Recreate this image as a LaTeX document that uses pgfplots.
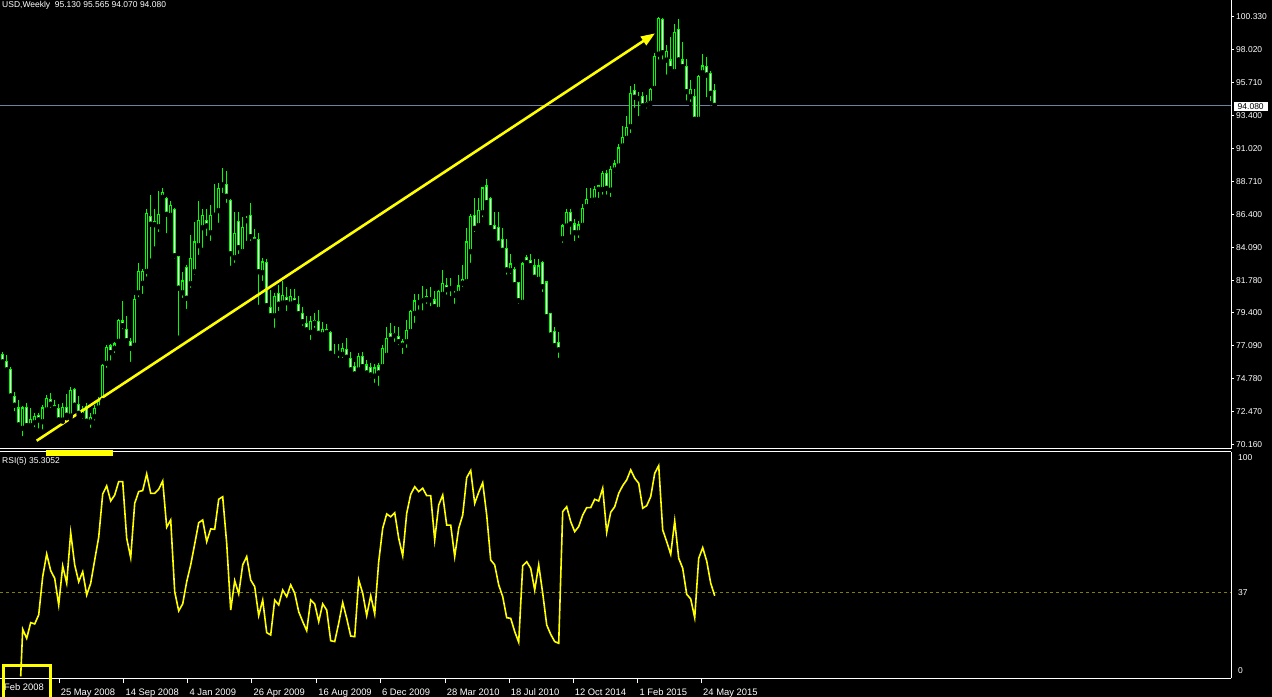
\documentclass[border=0pt]{standalone}
\usepackage{fontspec}
\setmainfont{Liberation Sans}
\usepackage{pgfplots}
\usepackage{pgfplotstable}
\pgfplotsset{compat=1.18}
\usetikzlibrary{arrows.meta}
\definecolor{mtgreen}{RGB}{0,255,0}
\definecolor{mtyellow}{RGB}{255,255,0}
\definecolor{pricegray}{RGB}{112,128,160}
\definecolor{lvl}{RGB}{128,128,0}
\newcommand{\mtfont}{\fontsize{8.5bp}{10bp}\selectfont}
\newcommand{\mtdfont}{\fontsize{9.4bp}{11bp}\selectfont}

\pgfplotstableread{
i O H L C
0 76.55 76.71 75.78 75.99
1 76.01 76.46 75.19 75.43
2 75.43 75.62 73.45 73.59
3 73.59 73.87 72.37 72.94
4 72.75 73.31 71.43 71.55
5 71.32 72.89 70.61 72.75
6 72.80 73.08 71.24 71.50
7 71.50 72.75 71.24 71.97
8 71.71 72.37 71.24 72.18
9 72.25 72.41 71.15 71.90
10 71.78 72.94 71.08 72.75
11 72.61 73.64 72.37 73.43
12 73.36 73.78 72.61 73.01
13 72.94 73.31 72.61 72.70
14 72.72 73.03 71.78 71.90
15 71.90 73.08 71.78 72.80
16 72.80 73.73 72.02 72.23
17 72.18 74.21 71.95 73.99
18 74.02 74.14 72.80 72.94
19 72.98 73.59 72.25 72.37
20 72.23 72.89 71.85 72.61
21 72.82 73.08 71.71 71.81
22 71.76 72.37 71.20 72.09
23 72.13 72.94 71.71 72.72
24 72.75 73.50 72.65 73.22
25 73.26 75.85 73.15 75.76
26 75.90 77.19 75.43 77.03
27 77.12 77.26 75.94 76.65
28 76.93 77.40 76.48 77.26
29 77.45 79.00 77.19 78.93
30 78.88 80.29 78.15 78.55
31 78.29 79.25 77.35 77.49
32 77.45 77.66 75.85 76.95
33 77.17 80.69 77.12 80.41
34 80.87 82.95 80.41 82.38
35 81.54 82.57 80.64 82.38
36 82.38 86.75 81.86 86.47
37 86.23 87.76 83.13 85.70
38 85.67 86.75 83.98 85.91
39 85.53 88.02 85.01 86.37
40 87.60 88.23 87.46 87.95
41 87.50 87.60 84.92 86.40
42 86.33 87.36 86.07 87.04
43 86.75 86.85 83.13 83.48
44 83.41 83.46 77.70 81.19
45 80.87 82.33 80.36 81.70
46 82.67 82.83 79.58 80.48
47 81.51 84.94 81.07 83.30
48 82.35 85.86 81.98 84.45
49 84.19 87.34 83.39 85.98
50 85.46 86.78 83.89 86.35
51 85.98 86.78 84.73 85.58
52 85.10 87.06 84.38 86.35
53 86.42 88.54 86.33 86.33
54 86.66 88.61 85.65 88.23
55 88.59 89.67 87.76 88.47
56 88.52 89.45 87.06 87.67
57 87.39 87.48 82.62 83.62
58 83.34 86.56 82.83 85.08
59 85.91 86.56 83.46 84.05
60 83.77 86.21 83.67 85.49
61 85.95 86.28 84.38 86.05
62 86.33 87.20 84.38 84.82
63 84.75 85.37 84.38 84.50
64 84.64 85.08 79.87 82.35
65 82.29 83.32 81.56 83.04
66 83.02 83.25 79.66 79.96
67 79.82 81.07 79.16 79.25
68 79.25 80.85 78.25 80.62
69 80.80 81.42 79.44 80.06
70 80.15 81.70 79.87 80.69
71 80.55 81.28 79.44 80.17
72 80.08 81.14 79.80 80.64
73 80.48 81.14 79.94 80.17
74 80.06 80.64 79.09 79.39
75 79.42 79.87 78.39 78.83
76 78.72 79.23 78.03 78.25
77 78.08 79.23 77.40 78.86
78 78.88 79.44 78.25 78.72
79 78.83 79.66 77.75 78.01
80 77.91 78.81 77.61 78.29
81 78.29 78.67 77.82 78.05
82 78.08 78.17 76.48 76.60
83 76.48 77.26 76.27 76.36
84 76.74 77.26 76.13 76.60
85 76.53 77.33 76.13 76.95
86 76.88 77.68 76.13 76.32
87 76.25 76.71 75.21 75.43
88 75.66 75.99 74.93 75.14
89 75.43 76.62 75.21 76.36
90 76.41 76.69 75.43 75.66
91 75.78 76.13 74.93 75.21
92 75.59 75.92 74.72 75.07
93 75.00 75.85 74.37 75.57
94 75.71 75.94 74.16 75.21
95 75.66 77.19 75.43 76.91
96 76.46 78.44 76.18 77.66
97 78.01 78.72 77.31 77.59
98 78.01 78.53 77.26 77.84
99 77.80 78.44 77.03 77.42
100 77.40 77.59 76.41 77.17
101 77.42 78.95 76.84 78.20
102 78.13 79.66 78.01 79.58
103 79.42 80.78 78.60 80.29
104 80.27 80.78 79.53 80.17
105 80.31 81.35 79.47 80.50
106 80.62 81.14 79.94 80.38
107 80.36 81.25 79.77 80.48
108 80.36 81.02 79.61 79.89
109 79.70 81.07 79.37 80.99
110 80.76 82.48 80.41 81.54
111 81.40 81.93 80.59 81.09
112 81.21 81.89 80.48 81.16
113 80.76 80.99 79.94 80.69
114 80.83 82.12 80.59 81.35
115 81.54 82.83 81.14 81.82
116 81.65 85.41 81.58 84.45
117 83.77 86.40 82.83 86.28
118 86.33 87.53 85.01 85.41
119 85.60 87.53 85.41 86.70
120 86.51 88.35 86.05 88.26
121 88.40 88.89 87.18 87.22
122 87.55 87.64 85.39 85.46
123 85.63 86.59 84.99 85.18
124 85.49 86.56 84.31 84.36
125 84.66 85.41 83.53 83.86
126 84.00 84.64 82.00 82.48
127 82.43 83.60 82.05 82.90
128 82.48 82.67 81.35 81.44
129 81.61 81.65 79.94 80.31
130 80.20 83.06 80.13 82.90
131 83.34 83.53 82.90 82.99
132 83.13 83.60 82.52 82.78
133 82.76 83.23 81.89 81.96
134 81.82 83.23 81.77 82.76
135 83.02 83.11 80.78 81.30
136 81.63 81.70 79.14 79.18
137 79.42 79.47 77.84 77.89
138 78.15 78.48 76.91 77.14
139 77.38 78.08 76.13 76.84
140 84.68 85.72 84.24 85.58
141 85.58 86.75 85.30 86.56
142 86.56 86.75 84.82 85.72
143 85.72 86.05 84.36 85.10
144 85.10 85.95 84.59 85.65
145 85.63 87.11 85.41 86.83
146 86.94 88.26 86.75 87.46
147 87.36 88.26 87.06 87.46
148 87.41 88.40 87.06 88.16
149 88.40 88.47 87.41 88.16
150 88.16 89.43 87.64 89.29
151 89.29 89.53 87.64 88.23
152 88.11 89.81 87.48 89.53
153 89.53 90.23 89.17 89.95
154 89.81 91.34 89.76 91.08
155 91.22 92.63 91.05 91.83
156 91.76 93.33 91.52 92.54
157 92.58 95.45 91.99 94.93
158 95.12 95.59 93.76 94.65
159 94.62 95.05 93.17 94.55
160 94.69 95.05 93.87 94.04
161 94.11 94.81 93.71 94.30
162 94.23 95.31 93.95 95.17
163 95.28 97.75 94.97 97.56
164 97.70 100.33 97.16 100.24
165 100.15 100.22 97.16 97.79
166 97.28 98.34 96.10 97.87
167 97.28 98.88 96.34 96.67
168 96.46 99.82 96.34 99.23
169 99.40 100.17 97.16 97.28
170 97.28 98.57 96.70 96.81
171 96.81 97.33 94.27 95.05
172 94.69 95.87 94.18 95.17
173 94.69 95.21 93.00 93.10
174 93.10 96.20 93.05 96.15
175 96.38 97.68 96.06 96.86
176 96.81 97.51 94.51 96.22
177 96.34 96.50 94.23 94.93
178 95.13 95.565 94.07 94.08
}\prices

\pgfplotstableread{
i r
4.5 -2.5
5 19.6
6 15.3
7 22.7
8 22.1
9 26.3
10 44.3
11 54.9
12 47.1
13 43.5
14 31.0
15 49.3
16 41.2
17 64.9
18 49.8
19 41.9
20 46.6
21 35.7
22 41.2
23 52.1
24 62.8
25 83.1
26 86.9
27 79.8
28 82.6
29 88.9
30 88.9
31 62.3
32 53.2
33 78.7
34 84.2
35 84.7
36 92.5
37 83.4
38 83.4
39 85.3
40 89.2
41 67.5
42 70.9
43 37.2
44 28.2
45 31.5
46 41.9
47 49.8
48 59.6
49 69.6
50 70.9
51 60.7
52 66.7
53 66.5
54 80.6
55 81.8
56 59.9
57 28.6
58 42.4
59 36.2
60 49.8
61 53.7
62 42.7
63 39.6
64 26.0
65 33.3
66 18.0
67 16.9
68 33.3
69 31.0
70 38.0
71 34.9
72 40.4
73 36.5
74 27.8
75 23.2
76 18.9
77 33.3
78 31.5
79 23.2
80 31.5
81 28.6
82 14.2
83 13.8
84 22.4
85 32.1
86 24.7
87 16.4
88 16.1
89 42.7
90 36.5
91 26.0
92 35.4
93 26.8
94 51.3
95 67.0
96 73.7
97 72.4
98 74.3
99 62.3
100 54.1
101 74.0
102 82.9
103 86.5
104 84.2
105 85.8
106 82.3
107 82.3
108 61.5
109 77.9
110 82.6
111 68.5
112 68.5
113 53.7
114 67.0
115 73.2
116 90.8
117 94.1
118 78.7
119 83.9
120 88.4
121 73.2
122 52.1
123 49.8
124 40.4
125 34.9
126 25.0
127 24.7
128 18.5
129 13.5
130 49.4
131 51.3
132 48.2
133 38.0
134 49.8
135 36.5
136 21.6
137 17.2
138 13.8
139 13.0
140 74.8
141 77.1
142 70.1
143 65.4
144 67.8
145 73.2
146 76.7
147 76.7
148 80.6
149 79.8
150 85.8
151 65.1
152 74.5
153 77.1
154 83.4
155 87.0
156 89.7
157 94.4
158 90.5
159 88.1
160 76.4
161 77.6
162 81.8
163 92.8
164 96.4
165 66.2
166 60.7
167 54.8
168 70.4
169 52.9
170 48.2
171 36.0
172 33.8
173 25.0
174 52.9
175 57.9
176 51.6
177 41.2
178 35.3052
}\rsi

\pgfplotsset{
  mtaxis/.style={
    scale only axis, width=1231bp, xmin=-0.675, xmax=307.075,
    anchor=south west,
    axis line style={white, line width=1bp},
    tick style={white, line width=1bp},
    tick align=outside,
    tick label style={font=\mtfont, text=white},
  },
  candle/.style={only marks, mark=none, forget plot,
    error bars/y dir=plus, error bars/y explicit, error bars/error mark=none,
    error bars/error bar style={draw=#1, solid}},
}

\begin{document}
\begin{tikzpicture}
\useasboundingbox (0,0) rectangle (1272bp,697bp);
\fill[black] (0,0) rectangle (1272bp,697bp);

\begin{axis}[mtaxis, at={(0,248bp)}, height=449bp,
  ymin=69.855, ymax=101.51,
  axis x line*=bottom, axis y line*=right,
  xtick=\empty,
  ytick={70.16,72.481,74.802,77.122,79.443,81.764,84.085,86.406,88.726,91.047,93.368,95.689,98.010,100.33},
  yticklabels={70.160,72.470,74.780,77.090,79.400,81.780,84.090,86.400,88.710,91.020,93.400,95.710,98.020,100.330},
  major tick length=3bp,
  yticklabel style={anchor=west, inner sep=0pt, xshift=2bp},
]
\addplot[pricegray, line width=1bp, forget plot] coordinates {(-0.675,94.08) (307.075,94.08)};
% wicks
\addplot[candle=mtgreen, error bars/error bar style={line width=1bp}]
  table[x=i, y=L, y error plus expr={\thisrow{H}-\thisrow{L}}] {\prices};
% body outlines
\addplot[candle=mtgreen, error bars/error bar style={line width=3.4bp}]
  table[x=i, y expr={min(\thisrow{O},\thisrow{C})-0.035}, y error plus expr={abs(\thisrow{C}-\thisrow{O})+0.07}] {\prices};
% bear bodies (white)
\addplot[candle=white, error bars/error bar style={line width=1.1bp},
  restrict expr to domain={\thisrow{O}-\thisrow{C}}{0:1000}]
  table[x=i, y expr={\thisrow{C}+0.04}, y error plus expr={max(\thisrow{O}-\thisrow{C}-0.08,0)}] {\prices};
% bull bodies (black)
\addplot[candle=black, error bars/error bar style={line width=1.1bp},
  restrict expr to domain={\thisrow{C}-\thisrow{O}}{0.00001:1000}]
  table[x=i, y expr={\thisrow{O}+0.04}, y error plus expr={max(\thisrow{C}-\thisrow{O}-0.08,0)}] {\prices};
% trend arrow
\draw[mtyellow, line width=2.6bp, -{Triangle[length=14bp, width=10bp]}]
  (axis cs:8.5,70.44) -- (axis cs:163.08,99.16);
\end{axis}

\begin{axis}[mtaxis, at={(0,19bp)}, height=226bp,
  ymin=-3.3, ymax=102.8,
  axis x line*=box, axis y line*=right,
  xtick pos=left, ytick pos=right,
  ytick={0,37,100}, yticklabels={0,37,100},
  ytick style={draw=none},
  yticklabel style={anchor=west, inner sep=0pt, xshift=2bp},
  xtick={14.1,30.3,46.3,62.3,78.5,94.4,110.6,126.6,142.6,158.8,174.7},
  xticklabels={25 May 2008,14 Sep 2008,4 Jan 2009,26 Apr 2009,16 Aug 2009,6 Dec 2009,28 Mar 2010,18 Jul 2010,12 Oct 2014,1 Feb 2015,24 May 2015},
  major tick length=5bp,
  xticklabel style={font=\mtdfont, anchor=base west, inner sep=0pt, xshift=1.5bp, yshift=-12bp},
]
\addplot[lvl, line width=1bp, dash pattern=on 3bp off 3bp, forget plot] coordinates {(-0.675,37) (307.075,37)};
\addplot[mtyellow, line width=1.6bp, forget plot] table[x=i, y=r] {\rsi};
\end{axis}

% annotations
\node[anchor=base west, inner sep=0pt, text=white, font=\mtfont] at (2bp,689.5bp) {USD,Weekly\ \ 95.130 95.565 94.070 94.080};
\node[anchor=base west, inner sep=0pt, text=white, font=\mtfont] at (2bp,233bp) {RSI(5) 35.3052};
\node[anchor=base west, inner sep=0pt, text=white, font=\mtdfont] at (4bp,6.5bp) {Feb 2008};
\node[anchor=west, fill=white, text=black, inner sep=0pt, minimum width=34.4bp, minimum height=9.5bp, font=\mtfont] at (1233.3bp,590.7bp) {94.080};
\fill[mtyellow] (46bp,241.3bp) rectangle (113bp,247bp);
\draw[mtyellow, line width=3bp] (3bp,-5bp) rectangle (50.5bp,31.7bp);
\end{tikzpicture}
\end{document}
